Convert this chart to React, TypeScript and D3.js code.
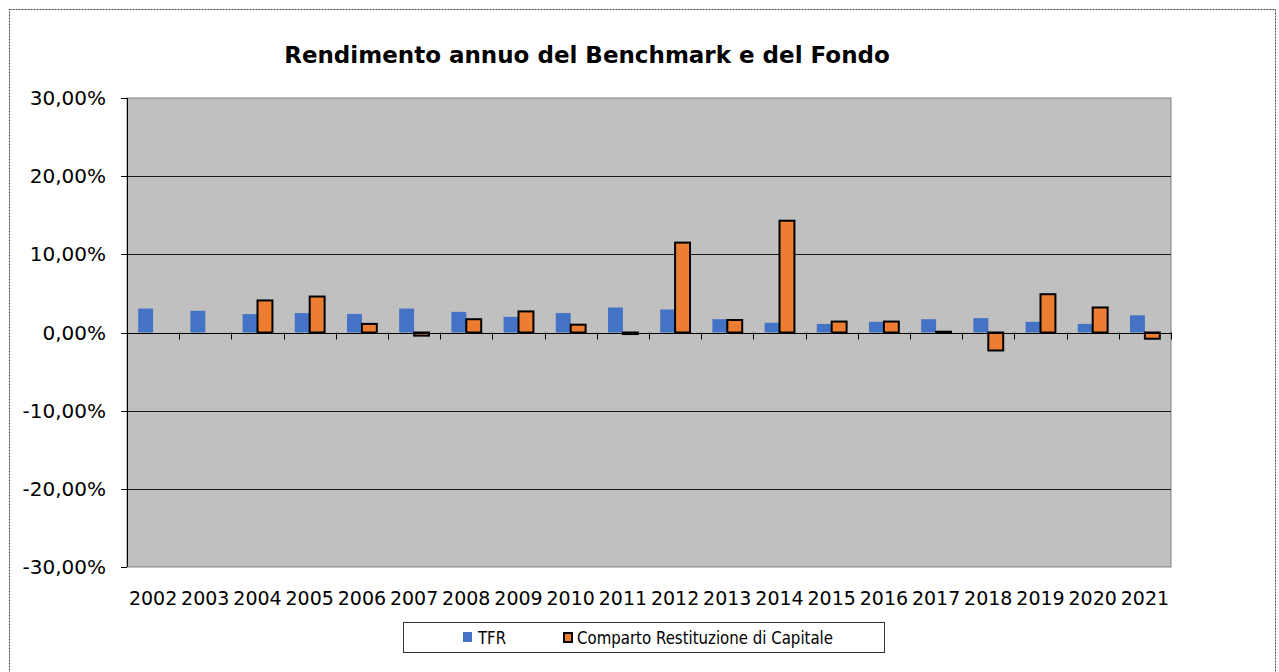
import React from "react";
import * as d3 from "d3";

const years = ["2002", "2003", "2004", "2005", "2006", "2007", "2008", "2009", "2010", "2011",
  "2012", "2013", "2014", "2015", "2016", "2017", "2018", "2019", "2020", "2021"];
const tfr = [3.06, 2.77, 2.35, 2.48, 2.38, 3.06, 2.64, 2.0, 2.49, 3.2,
  2.94, 1.7, 1.24, 1.1, 1.37, 1.7, 1.84, 1.37, 1.1, 2.2];
const fondo: (number | null)[] = [null, null, 4.1, 4.6, 1.1, -0.4, 1.7, 2.7, 1.0, -0.2,
  11.5, 1.6, 14.3, 1.4, 1.4, 0.1, -2.3, 4.9, 3.2, -0.8];
const yTicks = [-30, -20, -10, 0, 10, 20, 30];
const seriesNames = ["TFR", "Comparto Restituzione di Capitale"];

const W = 1279;
const H = 672;
const plot = { left: 127, right: 1171, top: 98, bottom: 567 };
const BLUE = "#4472C4";
const ORANGE = "#ED7D31";
const FONT = "'DejaVu Sans', Verdana, sans-serif";

export default function App() {
  const x = d3.scaleBand().domain(years).range([plot.left, plot.right]).paddingInner(0).paddingOuter(0);
  const y = d3.scaleLinear().domain([-30, 30]).range([plot.bottom, plot.top]);
  const bw = x.bandwidth();
  const barW = bw / 3.5;
  const gap = (bw - 2 * barW) / 2;
  const fmt = (v: number) => v.toFixed(2).replace(".", ",") + "%";

  return (
    <svg width={W} height={H} style={{ position: "absolute", left: 0, top: 0, background: "#fff" }}>
      {/* cornice del grafico */}
      <rect x={9.5} y={9.5} width={1266} height={680} fill="none" stroke="#444" strokeDasharray="2,1" />

      <text x={587} y={63} textAnchor="middle" fontFamily={FONT} fontWeight="bold" fontSize={23}>
        Rendimento annuo del Benchmark e del Fondo
      </text>

      {/* area del grafico */}
      <rect x={plot.left} y={plot.top} width={plot.right - plot.left} height={plot.bottom - plot.top}
        fill="#C0C0C0" stroke="#808080" strokeWidth={1} />

      {yTicks.filter((t) => t !== 0 && t !== 30 && t !== -30).map((t) => (
        <line key={"g" + t} x1={plot.left} x2={plot.right} y1={Math.round(y(t)) + 0.5} y2={Math.round(y(t)) + 0.5}
          stroke="#1a1a1a" strokeWidth={1} />
      ))}

      {/* barre */}
      {years.map((yr, i) => (
        <rect key={"t" + yr} x={(x(yr) as number) + gap} width={barW}
          y={y(Math.max(0, tfr[i]))} height={Math.abs(y(tfr[i]) - y(0))} fill={BLUE} />
      ))}
      {years.map((yr, i) => {
        const v = fondo[i];
        if (v == null) return null;
        return (
          <rect key={"f" + yr} x={(x(yr) as number) + gap + barW} width={barW}
            y={y(Math.max(0, v))} height={Math.max(1, Math.abs(y(v) - y(0)))}
            fill={ORANGE} stroke="#000" strokeWidth={2} />
        );
      })}

      {/* asse y */}
      <line x1={plot.left + 0.5} x2={plot.left + 0.5} y1={plot.top} y2={plot.bottom} stroke="#000" />
      {yTicks.map((t) => (
        <g key={"y" + t}>
          <line x1={plot.left - 6} x2={plot.left} y1={Math.round(y(t)) + 0.5} y2={Math.round(y(t)) + 0.5} stroke="#000" />
          <text x={106} y={y(t) + 7} textAnchor="end" fontFamily={FONT} fontSize={20} fill="#000">
            {fmt(t)}
          </text>
        </g>
      ))}

      {/* asse x sullo zero */}
      <line x1={plot.left} x2={plot.right} y1={Math.round(y(0)) + 0.5} y2={Math.round(y(0)) + 0.5} stroke="#000" />
      {years.map((yr) => (
        <line key={"xt" + yr} x1={Math.round((x(yr) as number) + bw) + 0.5} x2={Math.round((x(yr) as number) + bw) + 0.5}
          y1={y(0)} y2={y(0) + 7} stroke="#000" />
      ))}
      {years.map((yr) => (
        <text key={"xl" + yr} x={(x(yr) as number) + bw / 2} y={605} textAnchor="middle" fontFamily={FONT} fontSize={19}>
          {yr}
        </text>
      ))}

      {/* legenda */}
      <rect x={403.5} y={622.5} width={481} height={30} fill="#fff" stroke="#333" />
      <rect x={463} y={632} width={9} height={10} fill={BLUE} />
      <text x={478} y={644} fontFamily={FONT} fontSize={18} textLength={28} lengthAdjust="spacingAndGlyphs">
        {seriesNames[0]}
      </text>
      <rect x={564} y={633} width={8} height={9} fill={ORANGE} stroke="#000" strokeWidth={2} />
      <text x={577} y={644} fontFamily={FONT} fontSize={18} textLength={256} lengthAdjust="spacingAndGlyphs">
        {seriesNames[1]}
      </text>
    </svg>
  );
}
